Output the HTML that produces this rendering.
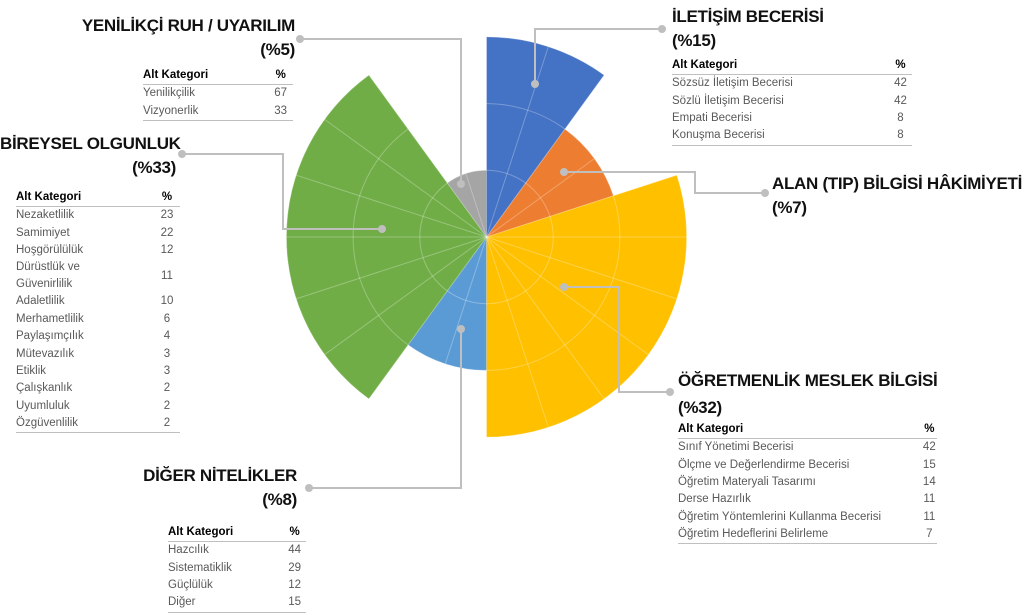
<!DOCTYPE html>
<html><head><meta charset="utf-8">
<style>
body{margin:0;background:#fff;width:1024px;height:613px;overflow:hidden;position:relative;font-family:"Liberation Sans","DejaVu Sans",sans-serif}
.t{position:absolute;font-weight:bold;font-size:17px;color:#111;line-height:24px;white-space:nowrap;letter-spacing:-0.3px}
.r{text-align:right}
table{position:absolute;border-collapse:collapse;font-size:11.5px;color:#595959}
td,th{padding:0;height:17.4px;line-height:17px;white-space:nowrap}
th{color:#000;font-weight:bold;text-align:left;border-bottom:1.5px solid #bfbfbf;height:16px}
th.v,td.v{text-align:center}
tr:last-child td{border-bottom:1.5px solid #bfbfbf}
svg{position:absolute;left:0;top:0}
</style></head><body>
<svg width="1024" height="613" id="chart"></svg>

<div class="t r" style="left:60px;top:14px;width:235px">YENİLİKÇİ RUH / UYARILIM<br>(%5)</div>
<table style="left:143px;top:67px;width:150px">
<tr><th>Alt Kategori</th><th class="v">%</th></tr>
<tr><td>Yenilikçilik</td><td class="v">67</td></tr>
<tr><td>Vizyonerlik</td><td class="v">33</td></tr></table>

<div class="t r" style="left:0;top:132px;width:176px">BİREYSEL OLGUNLUK<br>(%33)</div>
<table style="left:16px;top:189px;width:164px">
<tr><th>Alt Kategori</th><th class="v">%</th></tr>
<tr><td>Nezaketlilik</td><td class="v">23</td></tr>
<tr><td>Samimiyet</td><td class="v">22</td></tr>
<tr><td>Hoşgörülülük</td><td class="v">12</td></tr>
<tr><td style="height:34px;line-height:17px">Dürüstlük ve<br>Güvenirlilik</td><td class="v">11</td></tr>
<tr><td>Adaletlilik</td><td class="v">10</td></tr>
<tr><td>Merhametlilik</td><td class="v">6</td></tr>
<tr><td>Paylaşımçılık</td><td class="v">4</td></tr>
<tr><td>Mütevazılık</td><td class="v">3</td></tr>
<tr><td>Etiklik</td><td class="v">3</td></tr>
<tr><td>Çalışkanlık</td><td class="v">2</td></tr>
<tr><td>Uyumluluk</td><td class="v">2</td></tr>
<tr><td>Özgüvenlilik</td><td class="v">2</td></tr></table>

<div class="t" style="left:672px;top:5px">İLETİŞİM BECERİSİ<br>(%15)</div>
<table style="left:672px;top:57px;width:240px">
<tr><th>Alt Kategori</th><th class="v">%</th></tr>
<tr><td>Sözsüz İletişim Becerisi</td><td class="v">42</td></tr>
<tr><td>Sözlü İletişim Becerisi</td><td class="v">42</td></tr>
<tr><td>Empati Becerisi</td><td class="v">8</td></tr>
<tr><td>Konuşma Becerisi</td><td class="v">8</td></tr></table>

<div class="t" style="left:772px;top:172px">ALAN (TIP) BİLGİSİ HÂKİMİYETİ<br>(%7)</div>

<div class="t" style="left:678px;top:367px;line-height:27px">ÖĞRETMENLİK MESLEK BİLGİSİ<br>(%32)</div>
<table style="left:678px;top:421px;width:259px">
<tr><th>Alt Kategori</th><th class="v">%</th></tr>
<tr><td>Sınıf Yönetimi Becerisi</td><td class="v">42</td></tr>
<tr><td>Ölçme ve Değerlendirme Becerisi</td><td class="v">15</td></tr>
<tr><td>Öğretim Materyali Tasarımı</td><td class="v">14</td></tr>
<tr><td>Derse Hazırlık</td><td class="v">11</td></tr>
<tr><td>Öğretim Yöntemlerini Kullanma Becerisi</td><td class="v">11</td></tr>
<tr><td>Öğretim Hedeflerini Belirleme</td><td class="v">7</td></tr></table>

<div class="t r" style="left:100px;top:464px;width:197px">DİĞER NİTELİKLER<br>(%8)</div>
<table style="left:168px;top:524px;width:138px">
<tr><th>Alt Kategori</th><th class="v">%</th></tr>
<tr><td>Hazcılık</td><td class="v">44</td></tr>
<tr><td>Sistematiklik</td><td class="v">29</td></tr>
<tr><td>Güçlülük</td><td class="v">12</td></tr>
<tr><td>Diğer</td><td class="v">15</td></tr></table>

<script>
const categories = ["İletişim Becerisi","Alan (Tıp) Bilgisi","Öğretmenlik Meslek Bilgisi","Diğer Nitelikler","Bireysel Olgunluk","Yenilikçi Ruh"];
const radiusValues = [3, 2, 3, 2, 3, 1];
const spanUnits = [1, 1, 3, 1, 3, 1];
const colors = ["#4472c4","#ed7d31","#ffc000","#5b9bd5","#70ad47","#a5a5a5"];
const gridLevels = [1, 2, 3];

const NS = "http://www.w3.org/2000/svg";
const svg = document.getElementById("chart");
const cx = 486.5, cy = 237, unitR = 66.7;
const totalUnits = spanUnits.reduce((a,b)=>a+b,0);
const rScale = v => v * unitR;
const aScale = u => u / totalUnits * 2 * Math.PI;
function pt(r, a){ return [cx + r*Math.sin(a), cy - r*Math.cos(a)]; }
function mk(tag, attrs){ const e = document.createElementNS(NS, tag); for (const k in attrs) e.setAttribute(k, attrs[k]); return e; }

const defs = mk("defs", {});
const clip = mk("clipPath", {id:"wedgeClip"});
defs.appendChild(clip);
svg.appendChild(defs);

let acc = 0;
categories.forEach((c, i) => {
  const a0 = aScale(acc), a1 = aScale(acc + spanUnits[i]);
  acc += spanUnits[i];
  const r = rScale(radiusValues[i]);
  const p0 = pt(r, a0), p1 = pt(r, a1);
  const large = (a1 - a0) > Math.PI ? 1 : 0;
  const d = `M${cx},${cy} L${p0[0]},${p0[1]} A${r},${r} 0 ${large} 1 ${p1[0]},${p1[1]} Z`;
  const w = mk("path", {d: d, fill: colors[i]});
  
  
  svg.appendChild(w);
  clip.appendChild(mk("path", {d: d}));
});

const grid = mk("g", {"clip-path":"url(#wedgeClip)", stroke:"rgba(255,255,255,0.28)", "stroke-width":"1", fill:"none"});


gridLevels.forEach(l => grid.appendChild(mk("circle", {cx:cx, cy:cy, r:rScale(l)})));
for (let u = 0; u < totalUnits*2; u++) {
  const p = pt(rScale(3.2), aScale(u/2));
  grid.appendChild(mk("line", {x1:cx, y1:cy, x2:p[0], y2:p[1]}));
}
svg.appendChild(grid);

const leaders = [
  {name:"leader-yenilikci", pts:[[300,39],[461,39],[461,184]]},
  {name:"leader-bireysel", pts:[[182,154],[283,154],[283,229],[382,229]]},
  {name:"leader-iletisim", pts:[[535,84],[535,29],[662,29]]},
  {name:"leader-alan", pts:[[564,172],[695,172],[695,193],[765,193]]},
  {name:"leader-ogretmenlik", pts:[[564,287],[619,287],[619,392],[670,392]]},
  {name:"leader-diger", pts:[[461,329],[461,488],[309,488]]}
];
leaders.forEach(l => {
  const g = mk("g", {});
  
  
  g.appendChild(mk("polyline", {points:l.pts.map(p=>p.join(",")).join(" "), fill:"none", stroke:"#bfbfbf", "stroke-width":"2"}));
  const s = l.pts[0], e = l.pts[l.pts.length-1];
  g.appendChild(mk("circle", {cx:s[0], cy:s[1], r:4, fill:"#bfbfbf"}));
  g.appendChild(mk("circle", {cx:e[0], cy:e[1], r:4, fill:"#bfbfbf"}));
  svg.appendChild(g);
});
</script>
</body></html>
